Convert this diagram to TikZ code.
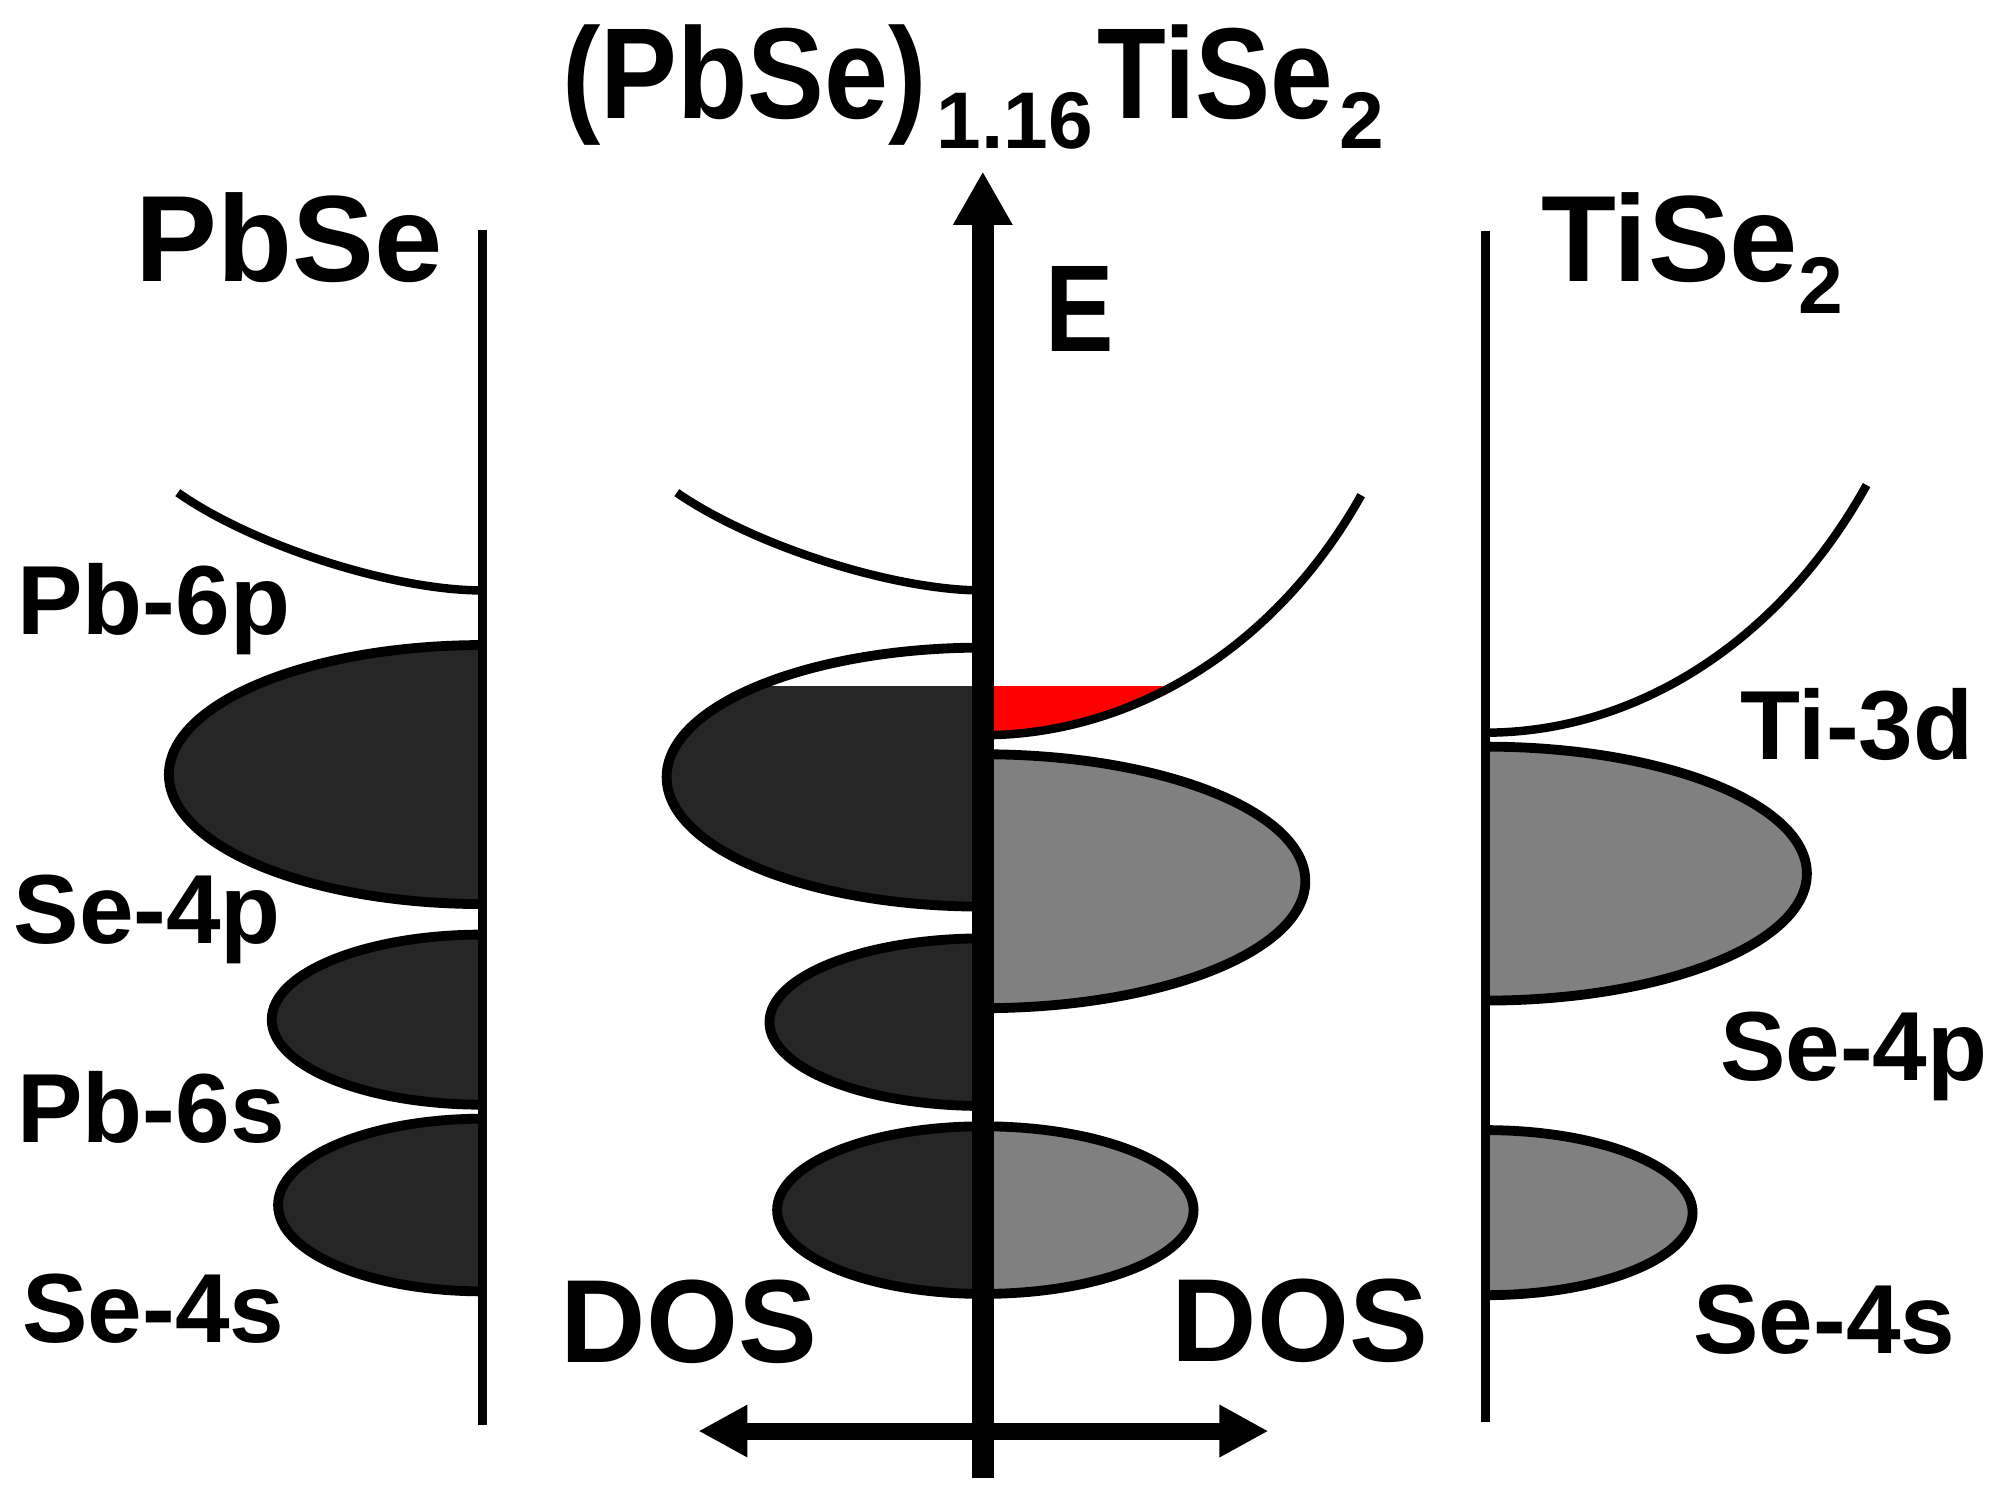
\documentclass[tikz,border=0pt]{standalone}
\usepackage{fontspec}
\setmainfont{Liberation Sans}
\usetikzlibrary{arrows.meta}
\definecolor{darkfill}{HTML}{262626}
\definecolor{grayfill}{HTML}{808080}
\definecolor{fermired}{HTML}{FF0000}
\begin{document}
\begin{tikzpicture}[x=0.1mm,y=-0.1mm,
  lbl/.style={font=\bfseries\fontsize{22}{24}\selectfont, anchor=base west, inner sep=0},
  big/.style={font=\bfseries\fontsize{27.5}{30}\selectfont, anchor=base west, inner sep=0},
  dos/.style={font=\bfseries\fontsize{26.5}{29}\selectfont, anchor=base west, inner sep=0},
  axisline/.style={line width=2pt},
  band/.style={line width=2.2pt, draw=black},
  dosband/.style={line width=1.9pt},
]
\useasboundingbox[fill=white] (0,0) rectangle (1568,1173);

% ---------- left panel: PbSe ----------
\begin{scope}
  \clip (380,0) rectangle (0,1173);
  \filldraw[band, fill=darkfill] (380,610) ellipse[x radius=247, y radius=102];
  \filldraw[band, fill=darkfill] (380,803) ellipse[x radius=166, y radius=67];
  \filldraw[band, fill=darkfill] (380,949) ellipse[x radius=161, y radius=68];
\end{scope}
\draw[dosband] (380,465) .. controls (310,465) and (200,430) .. (140,388);
\draw[axisline] (380,181) -- (380,1122);

% ---------- middle panel: (PbSe)1.16TiSe2 ----------
\begin{scope}
  \clip (774,541) rectangle (0,1173);
  \fill[darkfill] (774,612) ellipse[x radius=249, y radius=102];
\end{scope}
\begin{scope}
  \clip (774,0) rectangle (0,1173);
  \draw[band] (774,612) ellipse[x radius=249, y radius=102];
  \filldraw[band, fill=darkfill] (774,805) ellipse[x radius=168, y radius=66];
  \filldraw[band, fill=darkfill] (774,953) ellipse[x radius=162, y radius=66];
\end{scope}
\begin{scope}
  \clip (774,0) rectangle (1568,1173);
  \filldraw[band, fill=grayfill] (774,694) ellipse[x radius=254, y radius=100];
  \filldraw[band, fill=grayfill] (774,953) ellipse[x radius=166, y radius=66];
\end{scope}
\begin{scope}
  \clip (774,541) rectangle (1100,600);
  \fill[fermired] (774,579) .. controls (890,579) and (1004,512) .. (1072,390) -- (774,390) -- cycle;
\end{scope}
\draw[dosband] (774,465) .. controls (704,465) and (594,430) .. (533,388);
\draw[dosband] (774,579) .. controls (890,579) and (1004,512) .. (1072,390);

% ---------- right panel: TiSe2 ----------
\begin{scope}
  \clip (1170,0) rectangle (1568,1173);
  \filldraw[band, fill=grayfill] (1170,688) ellipse[x radius=253, y radius=100];
  \filldraw[band, fill=grayfill] (1170,955) ellipse[x radius=163, y radius=65];
\end{scope}
\draw[dosband] (1170,577) .. controls (1286,577) and (1400,508) .. (1470,382);
\draw[axisline] (1170,182) -- (1170,1120);

% ---------- central energy axis and DOS arrow ----------
\coordinate (ebot) at (774,1164);
\coordinate (etop) at (774,135);
\coordinate (dosl) at (550,1127);
\coordinate (dosr) at (999,1127);
\draw[line width=3.8pt, {Triangle[width=11pt,length=11pt]}-{Triangle[width=11pt,length=11pt]}] (dosl) -- (dosr);
\draw[line width=4.9pt, -{Triangle[width=12.5pt,length=12pt]}] (ebot) -- (etop);

% ---------- texts ----------
\node[anchor=base west, inner sep=0, font=\bfseries\fontsize{29}{31}\selectfont] (title) at (442,93)
  {\scalebox{0.89}[1]{(PbSe)}\hspace{2.2pt}\raisebox{-6.8pt}{\fontsize{18}{20}\selectfont 1.16}\hspace{1pt}\scalebox{0.87}[1]{TiSe}\hspace{1.5pt}\raisebox{-6.8pt}{\fontsize{18}{20}\selectfont 2}};
\node[anchor=base west, inner sep=0, font=\bfseries] (elabel) at (823,277)
  {\scalebox{0.83}[1]{\fontsize{27.7}{30}\selectfont E}};
\node[big] (pbse) at (106,222) {PbSe};
\node[big] (tise) at (1213,222) {TiSe\raisebox{-7pt}{\fontsize{18}{20}\selectfont 2}};

\node[lbl] (pb6p) at (13,500) {Pb-6p};
\node[lbl] (se4pL) at (10,743) {Se-4p};
\node[lbl] (pb6s) at (13,900) {Pb-6s};
\node[lbl] (se4sL) at (17,1057) {Se-4s};
\node[lbl] (ti3d) at (1370,598) {Ti-3d};
\node[lbl] (se4pR) at (1354,851) {Se-4p};
\node[lbl] (se4sR) at (1333,1066) {Se-4s};

\node[dos] (dosL) at (441,1073) {DOS};
\node[dos] (dosR) at (922,1072) {DOS};
\end{tikzpicture}
\end{document}
